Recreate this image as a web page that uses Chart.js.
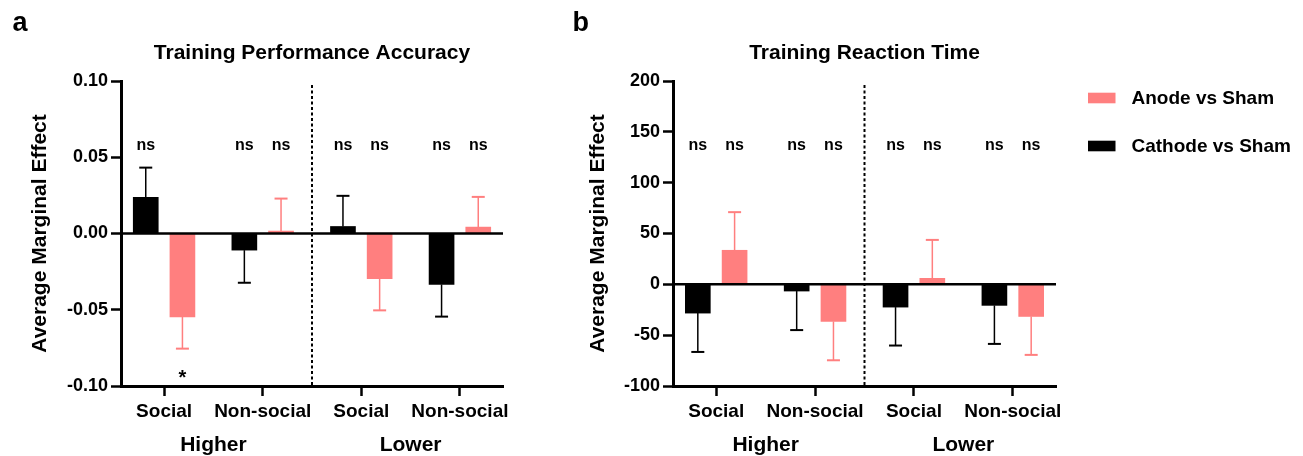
<!DOCTYPE html>
<html>
<head>
<meta charset="utf-8">
<script src="https://cdn.jsdelivr.net/npm/chart.js@4.4.1/dist/chart.umd.min.js"></script>
<style>
    html, body { margin: 0; padding: 0; background: #fff; }
    #wrap { position: relative; width: 1303px; height: 456px; overflow: hidden; }
    .panel { position: absolute; top: 0; height: 456px; }
    #panelA { left: 0; width: 552px; }
    #panelB { left: 552px; width: 751px; }
</style>
</head>
<body>
<div id="wrap">
    <div class="panel" id="panelA"><canvas id="chartA"></canvas></div>
    <div class="panel" id="panelB"><canvas id="chartB"></canvas></div>
</div>
<script>
const categories = ['Social', 'Non-social', 'Social', 'Non-social'];
const groups = ['Higher', 'Lower'];
const anodeLabel = 'Anode vs Sham';
const cathodeLabel = 'Cathode vs Sham';

// panel a - accuracy
const accAnode = [-0.0547, 0.0016, -0.0296, 0.0042];
const accAnodeErr = [0.0208, 0.0213, 0.0208, 0.0198];
const accCathode = [0.0238, -0.0109, 0.0046, -0.0334];
const accCathodeErr = [0.0194, 0.0214, 0.0201, 0.0211];
const accAnodeSig = ['*', 'ns', 'ns', 'ns'];
const accCathodeSig = ['ns', 'ns', 'ns', 'ns'];
const accTicks = [-0.10, -0.05, 0, 0.05, 0.10];

// panel b - reaction time
const rtAnode = [33.5, -36.5, 5.9, -31.6];
const rtAnodeErr = [37.5, 38.2, 37.8, 37.8];
const rtCathode = [-28.3, -6.6, -22.4, -20.7];
const rtCathodeErr = [38.2, 38.4, 37.8, 37.9];
const rtAnodeSig = ['ns', 'ns', 'ns', 'ns'];
const rtCathodeSig = ['ns', 'ns', 'ns', 'ns'];
const rtTicks = [-100, -50, 0, 50, 100, 150, 200];

const PINK = '#FF7F7F';
const BLACK = '#000000';
const FONT = "'Liberation Sans', Arial, sans-serif";

Chart.defaults.font.family = FONT;
Chart.defaults.color = '#000';

const extras = {
    id: 'extras',
    afterDatasetsDraw(chart, args, opts) {
        const ctx = chart.ctx;
        const ca = chart.chartArea;
        const x = chart.scales.x;
        const y = chart.scales.y;
        ctx.save();

        // zero line
        const y0 = y.getPixelForValue(0);
        ctx.strokeStyle = BLACK;
        ctx.lineWidth = 2.5;
        ctx.beginPath();
        ctx.moveTo(ca.left, y0);
        ctx.lineTo(ca.right, y0);
        ctx.stroke();

        // dashed separator between Higher and Lower
        const xs = x.getPixelForValue(1.5);
        ctx.lineWidth = 2;
        ctx.setLineDash([3, 2.5]);
        ctx.beginPath();
        ctx.moveTo(xs, ca.top + 4);
        ctx.lineTo(xs, ca.bottom);
        ctx.stroke();
        ctx.setLineDash([]);

        // error bars + significance marks
        chart.data.datasets.forEach((ds, di) => {
            const meta = chart.getDatasetMeta(di);
            meta.data.forEach((bar, i) => {
                const v = ds.data[i].y;
                const end = v >= 0 ? v + ds.errors[i] : v - ds.errors[i];
                const py = y.getPixelForValue(end);
                ctx.strokeStyle = ds.backgroundColor;
                ctx.lineWidth = 1.5;
                ctx.beginPath();
                ctx.moveTo(bar.x, bar.y);
                ctx.lineTo(bar.x, py);
                ctx.stroke();
                ctx.lineWidth = 2;
                ctx.beginPath();
                ctx.moveTo(bar.x - 6.5, py);
                ctx.lineTo(bar.x + 6.5, py);
                ctx.stroke();

                const s = ds.sig[i];
                ctx.fillStyle = BLACK;
                ctx.textAlign = 'center';
                ctx.textBaseline = 'alphabetic';
                if (s === '*') {
                    ctx.font = 'bold 20px ' + FONT;
                    ctx.fillText(s, bar.x, ca.bottom - 2);
                } else {
                    ctx.font = 'bold 16px ' + FONT;
                    ctx.fillText(s, bar.x, 149.5);
                }
            });
        });

        // group labels under the categories
        ctx.font = 'bold 21px ' + FONT;
        ctx.fillStyle = BLACK;
        ctx.textAlign = 'center';
        groups.forEach((g, gi) => {
            ctx.fillText(g, x.getPixelForValue(gi * 2 + 0.5), 451);
        });

        // title and panel letter
        ctx.fillText(opts.title, (ca.left + ca.right) / 2, 58.5);
        ctx.font = 'bold 27px ' + FONT;
        ctx.textAlign = 'left';
        ctx.fillText(opts.letter, opts.letterX, 31);

        // legend (anode first, then cathode)
        if (opts.legend) {
            const order = chart.data.datasets.slice().reverse();
            order.forEach((ds, k) => {
                const cy = 98 + k * 48;
                ctx.fillStyle = ds.backgroundColor;
                ctx.fillRect(opts.legendX, cy - 5.3, 27.5, 10.6);
                ctx.fillStyle = BLACK;
                ctx.font = 'bold 19px ' + FONT;
                ctx.textBaseline = 'middle';
                ctx.textAlign = 'left';
                ctx.fillText(ds.label, opts.legendX + 43.5, cy + 1);
            });
        }
        ctx.restore();
    }
};

function makePanel(canvasId, p) {
    const half = 0.186;
    return new Chart(document.getElementById(canvasId), {
        type: 'bar',
        data: {
            datasets: [
                {
                    label: cathodeLabel,
                    data: p.cathode.map((v, i) => ({ x: i - half, y: v })),
                    errors: p.cathodeErr,
                    sig: p.cathodeSig,
                    backgroundColor: BLACK,
                    barThickness: 25,
                    grouped: false
                },
                {
                    label: anodeLabel,
                    data: p.anode.map((v, i) => ({ x: i + half, y: v })),
                    errors: p.anodeErr,
                    sig: p.anodeSig,
                    backgroundColor: PINK,
                    barThickness: 25,
                    grouped: false
                }
            ]
        },
        options: {
            responsive: true,
            maintainAspectRatio: false,
            animation: false,
            events: [],
            layout: { padding: { left: 0, top: 81, right: p.padRight, bottom: 0 } },
            plugins: {
                legend: { display: false },
                tooltip: { enabled: false },
                extras: { title: p.title, letter: p.letter, letterX: p.letterX, legend: p.legend, legendX: p.legendX }
            },
            scales: {
                x: {
                    type: 'linear',
                    min: -0.437,
                    max: 3.437,
                    offset: false,
                    afterFit: s => { s.height = 70; },
                    afterBuildTicks: s => { s.ticks = categories.map((c, i) => ({ value: i })); },
                    grid: { offset: false, drawOnChartArea: false, drawTicks: true, tickLength: 10, tickWidth: 2.5, tickColor: BLACK },
                    border: { display: true, color: BLACK, width: 3 },
                    ticks: {
                        autoSkip: false,
                        maxRotation: 0,
                        padding: 4,
                        font: { size: 19, weight: 'bold' },
                        callback: v => categories[v]
                    }
                },
                y: {
                    min: p.ticks[0],
                    max: p.ticks[p.ticks.length - 1],
                    afterFit: s => { s.width = p.axisX; },
                    afterBuildTicks: s => { s.ticks = p.ticks.map(v => ({ value: v })); },
                    grid: { drawOnChartArea: false, drawTicks: true, tickLength: 10, tickWidth: 2.5, tickColor: BLACK },
                    border: { display: true, color: BLACK, width: 3 },
                    ticks: {
                        padding: 3,
                        font: { size: 18, weight: 'bold' },
                        callback: p.format
                    },
                    title: {
                        display: true,
                        text: 'Average Marginal Effect',
                        font: { size: 21, weight: 'bold' },
                        padding: { top: p.titlePad, bottom: 0 }
                    }
                }
            }
        },
        plugins: [extras]
    });
}

makePanel('chartA', {
    anode: accAnode, anodeErr: accAnodeErr, anodeSig: accAnodeSig,
    cathode: accCathode, cathodeErr: accCathodeErr, cathodeSig: accCathodeSig,
    ticks: accTicks,
    format: v => (Math.abs(v) < 1e-9 ? '0.00' : v.toFixed(2)),
    title: 'Training Performance Accuracy',
    letter: 'a', letterX: 12.5,
    axisX: 121, padRight: 49, titlePad: 28,
    legend: false
});

makePanel('chartB', {
    anode: rtAnode, anodeErr: rtAnodeErr, anodeSig: rtAnodeSig,
    cathode: rtCathode, cathodeErr: rtCathodeErr, cathodeSig: rtCathodeSig,
    ticks: rtTicks,
    format: v => String(v),
    title: 'Training Reaction Time',
    letter: 'b', letterX: 20.5,
    axisX: 121, padRight: 247, titlePad: 34,
    legend: true, legendX: 536
});
</script>
</body>
</html>
